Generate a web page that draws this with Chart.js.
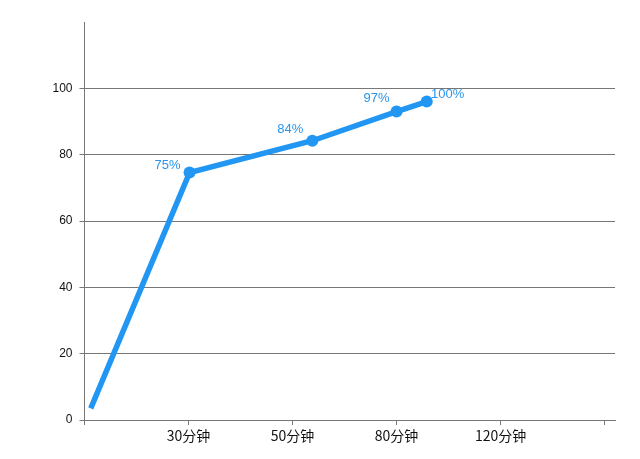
<!DOCTYPE html>
<html>
<head>
<meta charset="utf-8">
<script src="https://cdn.jsdelivr.net/npm/chart.js@4/dist/chart.umd.min.js"></script>
<style>
  html, body { margin: 0; padding: 0; background: #fff; }
  #wrap { width: 640px; height: 459px; }
</style>
</head>
<body>
<div id="wrap"><canvas id="progress-chart" width="640" height="459"></canvas></div>
<script>
// time position on the x axis (1 = 30分钟, 2 = 50分钟, 3 = 80分钟, 4 = 120分钟)
var timePos = [0.06, 1.01, 2.19, 3.0, 3.29];
var progress = [3.5, 74.6, 84.2, 93.0, 96.0];
var pointLabels = ['', '75%', '84%', '97%', '100%'];
var xTickLabels = ['', '30分钟', '50分钟', '80分钟', '120分钟', ''];
var yTicks = [0, 20, 40, 60, 80, 100];

var blue = '#2196f3';

var points = timePos.map(function (t, i) {
    return { x: t, y: progress[i] };
});

// percent labels beside each point
var pointLabelPlugin = {
    id: 'pointLabels',
    afterDatasetsDraw: function (chart) {
        var ctx = chart.ctx;
        var meta = chart.getDatasetMeta(0);
        var offsets = [[0, 0], [-22, -7], [-22, -11], [-20, -13], [21, -7]];
        ctx.save();
        ctx.fillStyle = '#2b95ea';
        ctx.font = '13px "Liberation Sans Narrow", "Liberation Sans", Arial, sans-serif';
        ctx.textAlign = 'center';
        ctx.textBaseline = 'middle';
        meta.data.forEach(function (el, i) {
            if (!pointLabels[i]) return;
            ctx.fillText(pointLabels[i], el.x + offsets[i][0], el.y + offsets[i][1]);
        });
        ctx.restore();
    }
};

var config = {
    type: 'line',
    data: {
        datasets: [{
            data: points,
            borderColor: blue,
            backgroundColor: blue,
            borderWidth: 5.5,
            borderCapStyle: 'butt',
            pointRadius: [0, 6, 6, 6, 6],
            pointHoverRadius: 6,
            pointBorderWidth: 0,
            tension: 0
        }]
    },
    options: {
        responsive: false,
        animation: false,
        layout: { padding: { left: 0, right: 25, top: 22, bottom: 0 } },
        plugins: {
            legend: { display: false },
            tooltip: { enabled: false }
        },
        scales: {
            x: {
                type: 'linear',
                min: 0,
                max: 5.1,
                afterBuildTicks: function (axis) {
                    axis.ticks = xTickLabels.map(function (l, i) { return { value: i }; });
                },
                afterFit: function (axis) { axis.height = 39; },
                grid: {
                    drawOnChartArea: false,
                    drawTicks: true,
                    tickLength: 5,
                    color: '#777'
                },
                border: { color: '#777', width: 1 },
                ticks: {
                    autoSkip: false,
                    maxRotation: 0,
                    padding: 2,
                    color: '#111',
                    font: { family: '"Noto Sans CJK SC", sans-serif', size: 14 },
                    callback: function (v) { return xTickLabels[v] || ''; }
                }
            },
            y: {
                min: 0,
                max: 120,
                afterBuildTicks: function (axis) {
                    axis.ticks = yTicks.map(function (v) { return { value: v }; });
                },
                afterFit: function (axis) { axis.width = 84.5; },
                grid: {
                    color: '#777',
                    lineWidth: 1,
                    tickLength: 5
                },
                border: { color: '#777', width: 1 },
                ticks: {
                    padding: 7,
                    color: '#111',
                    font: { family: '"Liberation Sans", Arial, sans-serif', size: 12 }
                }
            }
        }
    },
    plugins: [pointLabelPlugin]
};

var ctx1 = document.getElementById('progress-chart').getContext('2d');
window.progressChart = new Chart(ctx1, config);
</script>
</body>
</html>
